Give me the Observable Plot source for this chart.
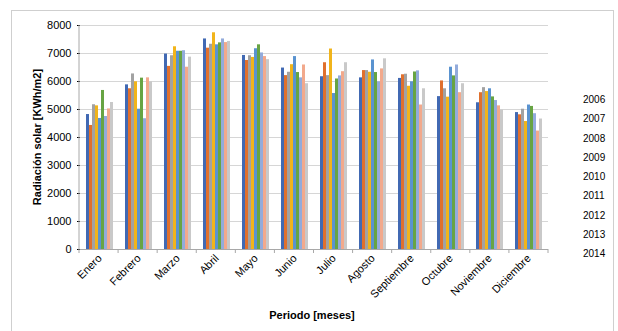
<!DOCTYPE html>
<html>
<head>
<meta charset="utf-8">
<script src="https://cdn.jsdelivr.net/npm/d3@7"></script>
<script src="https://cdn.jsdelivr.net/npm/@observablehq/plot@0.6"></script>
<style>
  body { margin: 0; background: #fff; }
  #chart { position: relative; width: 618px; height: 331px; overflow: hidden;
           font-family: "Liberation Sans", Arial, sans-serif; color: #000; }
  #border { position: absolute; left: 11px; top: 10px; width: 603px; height: 340px;
            border: 1px solid #cfcfcf; box-sizing: border-box; }
  #plot { position: absolute; left: 0; top: 0; }
  .title { position: absolute; font-weight: bold; font-size: 11px; white-space: nowrap; }
  #xtitle { left: 312px; top: 309px; transform: translateX(-50%); }
  #ytitle { left: 37px; top: 137px; transform: translate(-50%, -50%) rotate(-90deg); }
  #legend { position: absolute; left: 583px; top: 90px; font-size: 10px; line-height: 19.3px; }
</style>
</head>
<body>
<div id="chart">
  <div id="border"></div>
  <div id="plot"></div>
  <div class="title" id="ytitle">Radiación solar [KWh/m2]</div>
  <div class="title" id="xtitle">Periodo [meses]</div>
  <div id="legend"></div>
</div>
<script>
// Monthly solar radiation (KWh/m2), one series per year
const months = ["Enero", "Febrero", "Marzo", "Abril", "Mayo", "Junio", "Julio",
                "Agosto", "Septiembre", "Octubre", "Noviembre", "Diciembre"];
const years = ["2006", "2007", "2008", "2009", "2010", "2011", "2012", "2013", "2014"];

const r2006 = [4820, 5880, 6980, 7520, 6930, 6480, 6170, 6130, 6110, 5460, 5240, 4890];
const r2007 = [4430, 5740, 6540, 7190, 6750, 6210, 6670, 6390, 6240, 6020, 5600, 4810];
const r2008 = [5170, 6270, 6920, 7330, 6920, 6330, 6210, 6390, 6260, 5740, 5780, 5010];
const r2009 = [5130, 5990, 7240, 7740, 6860, 6600, 7160, 6330, 5830, 5440, 5640, 4570];
const r2010 = [4680, 5010, 7080, 7310, 7170, 6890, 5570, 6770, 5990, 6510, 5740, 5160];
const r2011 = [5680, 6120, 7080, 7380, 7310, 6320, 6090, 6320, 6340, 6200, 5450, 5110];
const r2012 = [4750, 4670, 7100, 7520, 7020, 6130, 6200, 5990, 6380, 6590, 5320, 4850];
const r2013 = [5020, 6130, 6510, 7390, 6890, 6590, 6350, 6450, 5160, 5600, 5130, 4230];
const r2014 = [5250, 5990, 6870, 7430, 6780, 5920, 6670, 6810, 5740, 5920, 4980, 4660];

const yTicks = [0, 1000, 2000, 3000, 4000, 5000, 6000, 7000, 8000];
const palette = ["#4169b3", "#e0702d", "#a2a2a2", "#f1b41b", "#5a93d0",
                 "#67a443", "#93abdb", "#f2a98c", "#c9c9c9"];

const series = [r2006, r2007, r2008, r2009, r2010, r2011, r2012, r2013, r2014];
const rows = years.flatMap((year, i) =>
  months.map((month, j) => ({month, year, value: series[i][j]})));

const plot = Plot.plot({
  width: 560,
  height: 331,
  marginLeft: 79,
  marginRight: 12,
  marginTop: 25,
  marginBottom: 82,
  style: {fontFamily: "'Liberation Sans', Arial, sans-serif", fontSize: "11px",
          color: "#000", background: "transparent", overflow: "visible"},
  fx: {domain: months, padding: 0, label: null, tickRotate: -45, tickSize: 0, tickPadding: 7},
  x: {domain: years, axis: null, paddingInner: 0, paddingOuter: 0.65},
  y: {domain: [0, 8000], ticks: yTicks, tickSize: 3, tickPadding: 6, label: null,
      tickFormat: d => String(d)},
  color: {domain: years, range: palette},
  marks: [
    Plot.ruleY(yTicks.filter(v => v > 0), {stroke: "#d6d6d6"}),
    Plot.barY(rows, {fx: "month", x: "year", y: "value", fill: "year"}),
    Plot.ruleY([0], {stroke: "#a8a8a8"})
  ]
});
document.getElementById("plot").append(plot);

// Axis line on the left and category separator ticks along the bottom
const svg = d3.select(plot.tagName === "svg" ? plot : plot.querySelector("svg"));
const ys = plot.scale("y");
const yScale = d3.scaleLinear(ys.domain, ys.range);
let x0 = 79, x1 = 548;
try {
  const fs = plot.scale("fx");
  x0 = fs.range[0]; x1 = fs.range[1];
} catch (e) {}
const band = d3.scaleBand(months, [x0, x1]);
const axisG = svg.append("g").attr("stroke", "#a8a8a8");
axisG.append("line")
  .attr("x1", x0).attr("x2", x0)
  .attr("y1", yScale(8000)).attr("y2", yScale(0));
axisG.selectAll("line.sep")
  .data(months.concat([null]))
  .join("line")
  .attr("class", "sep")
  .attr("x1", (d, i) => i < months.length ? band(d) : x1)
  .attr("x2", (d, i) => i < months.length ? band(d) : x1)
  .attr("y1", yScale(0)).attr("y2", yScale(0) + 4);

// Year list on the right
d3.select("#legend").selectAll("div").data(years).join("div").text(d => d);
</script>
</body>
</html>
